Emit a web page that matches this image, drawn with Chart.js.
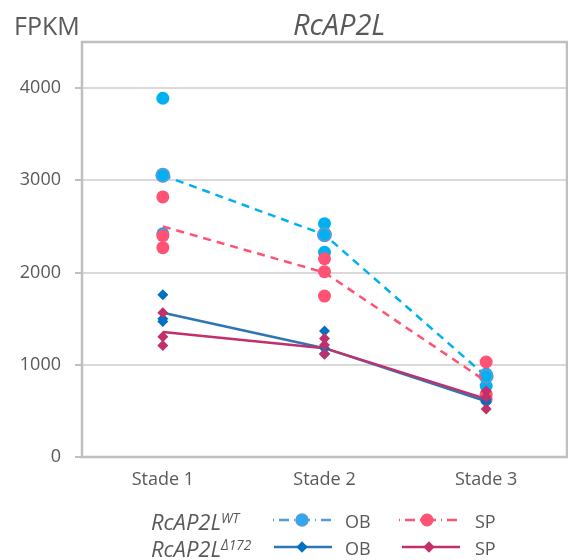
<!DOCTYPE html>
<html>
<head>
<meta charset="utf-8">
<script src="https://cdn.jsdelivr.net/npm/chart.js@4/dist/chart.umd.min.js"></script>
<style>
  html, body { margin: 0; padding: 0; background: #fff; }
  #wrap { position: relative; width: 568px; height: 560px; font-family: "Open Sans", sans-serif; color: #595959; }
  canvas { position: absolute; left: 0; top: 0; }
  .txt { position: absolute; white-space: nowrap; transform: translateY(-50%); line-height: 1; }
  .it { font-style: italic; }
  sup { font-size: 0.62em; vertical-align: 0; position: relative; top: -0.55em; }
  svg { position: absolute; }
</style>
</head>
<body>
<div id="wrap">
  <canvas id="chart" width="568" height="560"></canvas>
  <div class="txt" style="left:14px; top:25px; font-size:25px;">FPKM</div>
  <div class="txt it" style="left:293px; top:23px; font-size:29px;">RcAP2L</div>

  <div class="txt it" style="left:151px; top:521px; font-size:22px;">RcAP2L<sup>WT</sup></div>
  <div class="txt it" style="left:151px; top:548px; font-size:22px;">RcAP2L<sup>Δ172</sup></div>

  <svg style="left:270px; top:510px" width="64" height="20">
    <line x1="3" y1="10" x2="61" y2="10" stroke="#5b9bd5" stroke-width="2.5" stroke-dasharray="1,5,10,5"/>
    <circle cx="32" cy="10" r="6" fill="#2ea8ee" stroke="#5b9bd5" stroke-width="1.5"/>
  </svg>
  <div class="txt" style="left:345px; top:521px; font-size:18px;">OB</div>
  <svg style="left:396px; top:510px" width="64" height="20">
    <line x1="3" y1="10" x2="61" y2="10" stroke="#ff5274" stroke-width="2.5" stroke-dasharray="1,5,10,5"/>
    <circle cx="31" cy="10" r="6.5" fill="#ff5274"/>
  </svg>
  <div class="txt" style="left:475px; top:521px; font-size:18px;">SP</div>

  <svg style="left:270px; top:537px" width="64" height="20">
    <line x1="4" y1="10" x2="62" y2="10" stroke="#2e75b6" stroke-width="2.5"/>
    <rect x="28" y="6" width="8" height="8" fill="#0070c0" transform="rotate(45 32 10)"/>
  </svg>
  <div class="txt" style="left:345px; top:548px; font-size:18px;">OB</div>
  <svg style="left:398px; top:537px" width="64" height="20">
    <line x1="4" y1="10" x2="62" y2="10" stroke="#c2306c" stroke-width="2.5"/>
    <rect x="27" y="6" width="8" height="8" fill="#c2306c" transform="rotate(45 31 10)"/>
  </svg>
  <div class="txt" style="left:475px; top:548px; font-size:18px;">SP</div>
</div>
<script>
const stages = ['Stade 1', 'Stade 2', 'Stade 3'];
const yTicks = [0, 1000, 2000, 3000, 4000];

// replicates per stage
const wtOB = [[3890, 3050, 2420], [2530, 2420, 2220], [900, 880, 770]];
const wtSP = [[2820, 2400, 2270], [2150, 2010, 1745], [1030, 680, 630]];
const delOB = [[1760, 1500, 1470], [1365, 1180, 1120], [620, 600, 590]];
const delSP = [[1565, 1305, 1210], [1285, 1215, 1115], [715, 650, 520]];

// means (lines)
const wtOBMean = [3055, 2410, 875];
const wtSPMean = [2500, 2000, 820];
const delOBMean = [1565, 1180, 605];
const delSPMean = [1355, 1180, 630];

const toPoints = reps => reps.flatMap((vals, i) => vals.map(y => ({ x: stages[i], y })));

const boxPlugin = {
  id: 'box',
  beforeDatasetsDraw(chart) {
    const { ctx, chartArea: a } = chart;
    ctx.save();
    ctx.strokeStyle = '#bfbfbf';
    ctx.lineWidth = 2.5;
    ctx.strokeRect(a.left, a.top, a.right - a.left, a.bottom - a.top);
    ctx.restore();
  }
};

new Chart(document.getElementById('chart'), {
  type: 'line',
  data: {
    labels: stages,
    datasets: [
      { data: toPoints(delSP), showLine: false, pointStyle: 'rectRot', pointRadius: 5.5,
        backgroundColor: '#c2306c', borderColor: '#c2306c', borderWidth: 0 },
      { data: toPoints(delOB), showLine: false, pointStyle: 'rectRot', pointRadius: 5.5,
        backgroundColor: '#0070c0', borderColor: '#0070c0', borderWidth: 0 },
      { data: delSPMean, borderColor: '#c2306c', borderWidth: 2.5, pointRadius: 0 },
      { data: delOBMean, borderColor: '#2e75b6', borderWidth: 2.5, pointRadius: 0 },
      { data: wtSPMean, borderColor: '#ff5274', borderWidth: 2.5, borderDash: [8, 6], pointRadius: 0 },
      { data: wtOBMean, borderColor: '#00b0f0', borderWidth: 2.5, borderDash: [8, 6], pointRadius: 6.5,
        pointBackgroundColor: '#00b0f0', pointBorderColor: '#5b9bd5', pointBorderWidth: 2 },
      { data: toPoints(wtSP), showLine: false, pointRadius: 6.5,
        backgroundColor: '#ff5274', borderColor: '#ff5274', borderWidth: 0 },
      { data: toPoints(wtOB), showLine: false, pointRadius: 6.5,
        backgroundColor: '#00b0f0', borderColor: '#00b0f0', borderWidth: 0 }
    ]
  },
  options: {
    responsive: false,
    animation: false,
    layout: { autoPadding: false, padding: { top: 42, right: 1, left: 0, bottom: 0 } },
    plugins: { legend: { display: false }, tooltip: { enabled: false } },
    scales: {
      x: {
        offset: true,
        grid: { display: false },
        border: { display: false },
        ticks: { color: '#595959', font: { family: 'Open Sans', size: 18 }, padding: 4 },
        afterFit(scale) { scale.height = 103; }
      },
      y: {
        min: 0,
        max: 4500,
        afterBuildTicks(scale) { scale.ticks = yTicks.map(v => ({ value: v })); },
        grid: { color: '#d9d9d9', lineWidth: 2, tickLength: 7, tickColor: '#bfbfbf' },
        border: { display: false },
        ticks: {
          color: '#595959', font: { family: 'Open Sans', size: 18 }, padding: 14,
          callback: v => String(v)
        },
        afterFit(scale) { scale.width = 82; }
      }
    }
  },
  plugins: [boxPlugin]
});
</script>
</body>
</html>
